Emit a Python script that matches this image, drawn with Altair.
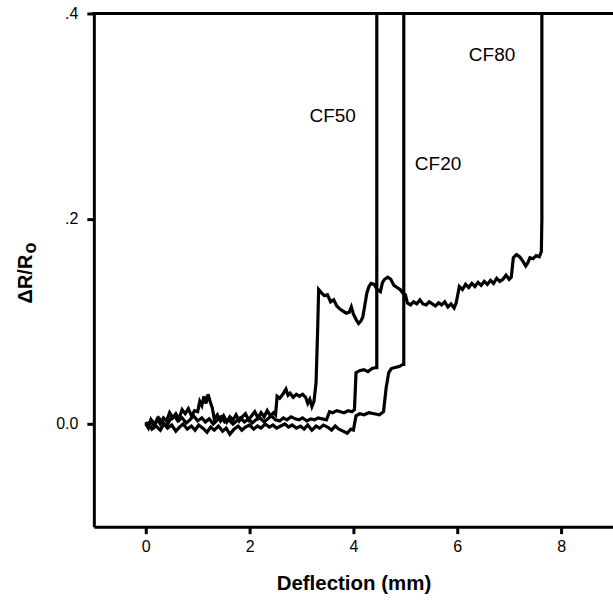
import altair as alt
import pandas as pd

# ---- data ----
cf80_x = [0.00, 0.05, 0.10, 0.16, 0.22, 0.28, 0.34, 0.40, 0.46, 0.52, 0.58, 0.64, 0.70, 0.76, 0.82, 0.88, 0.94,
          1.00, 1.04, 1.08, 1.12, 1.16, 1.20, 1.24, 1.28, 1.32, 1.38, 1.44, 1.50, 1.56, 1.62, 1.68, 1.74, 1.80,
          1.86, 1.92, 1.98, 2.04, 2.10, 2.16, 2.22, 2.28, 2.34, 2.40, 2.46, 2.50, 2.53, 2.58, 2.64, 2.70, 2.74,
          2.78, 2.84, 2.90, 2.96, 3.02, 3.08, 3.12, 3.16, 3.20, 3.24, 3.28, 3.31, 3.33, 3.38, 3.44, 3.50, 3.56,
          3.62, 3.68, 3.74, 3.80, 3.86, 3.92, 3.96, 4.00, 4.06, 4.10, 4.14, 4.18, 4.22, 4.26, 4.30, 4.34, 4.40,
          4.46, 4.52, 4.56, 4.60, 4.66, 4.72, 4.78, 4.84, 4.90, 4.96, 5.00, 5.04, 5.10, 5.16, 5.22, 5.28, 5.34,
          5.40, 5.46, 5.52, 5.58, 5.64, 5.70, 5.76, 5.82, 5.88, 5.94, 5.98, 6.04, 6.10, 6.16, 6.22, 6.28, 6.34,
          6.40, 6.46, 6.52, 6.58, 6.64, 6.70, 6.76, 6.82, 6.88, 6.94, 7.00, 7.04, 7.08, 7.14, 7.20, 7.26, 7.32,
          7.36, 7.40, 7.46, 7.52, 7.58, 7.62, 7.63, 7.63]
cf80_y = [0.000, -0.004, 0.004, -0.002, 0.005, 0.000, 0.006, 0.003, 0.011, 0.006, 0.010, 0.005, 0.014, 0.010, 0.015,
          0.008, 0.013, 0.012, 0.022, 0.018, 0.027, 0.020, 0.029, 0.022, 0.016, 0.005, 0.009, 0.003, 0.008, 0.002,
          0.007, 0.004, 0.009, 0.003, 0.007, 0.010, 0.004, 0.008, 0.012, 0.006, 0.011, 0.007, 0.013, 0.008, 0.011,
          0.009, 0.027, 0.025, 0.029, 0.034, 0.028, 0.030, 0.026, 0.029, 0.027, 0.029, 0.026, 0.020, 0.024, 0.017,
          0.022, 0.040, 0.090, 0.131, 0.128, 0.125, 0.126, 0.119, 0.121, 0.115, 0.112, 0.110, 0.108, 0.109, 0.114,
          0.107, 0.101, 0.098, 0.100, 0.104, 0.116, 0.128, 0.134, 0.137, 0.136, 0.131, 0.129, 0.138, 0.141, 0.143,
          0.141, 0.135, 0.133, 0.131, 0.127, 0.126, 0.118, 0.116, 0.119, 0.117, 0.121, 0.117, 0.116, 0.119, 0.117,
          0.115, 0.118, 0.116, 0.119, 0.114, 0.117, 0.113, 0.118, 0.134, 0.131, 0.136, 0.133, 0.137, 0.134, 0.138,
          0.135, 0.139, 0.136, 0.140, 0.137, 0.142, 0.139, 0.141, 0.145, 0.141, 0.143, 0.162, 0.165, 0.163, 0.159,
          0.154, 0.157, 0.162, 0.161, 0.164, 0.163, 0.168, 0.200, 0.400]

cf50_x = [0.00, 0.05, 0.10, 0.18, 0.25, 0.32, 0.40, 0.48, 0.55, 0.62, 0.70, 0.78, 0.85, 0.92, 1.00, 1.08, 1.15,
          1.22, 1.30, 1.38, 1.45, 1.52, 1.60, 1.68, 1.75, 1.82, 1.90, 1.98, 2.05, 2.12, 2.20, 2.28, 2.35, 2.42,
          2.50, 2.58, 2.65, 2.72, 2.80, 2.88, 2.95, 3.02, 3.10, 3.18, 3.25, 3.32, 3.40, 3.48, 3.54, 3.60, 3.68,
          3.75, 3.82, 3.90, 3.97, 4.02, 4.05, 4.12, 4.20, 4.28, 4.36, 4.43, 4.45, 4.45]
cf50_y = [0.002, -0.003, 0.004, 0.000, 0.006, 0.002, -0.002, 0.005, 0.008, 0.003, 0.006, 0.001, 0.004, 0.008, 0.003,
          0.006, 0.002, 0.005, 0.000, 0.004, 0.007, 0.002, 0.004, 0.000, 0.003, 0.006, 0.002, 0.005, 0.001, 0.004,
          0.006, 0.002, 0.005, 0.008, 0.004, 0.003, 0.006, 0.004, 0.007, 0.005, 0.004, 0.006, 0.003, 0.005, 0.004,
          0.006, 0.005, 0.004, 0.012, 0.011, 0.013, 0.012, 0.011, 0.013, 0.012, 0.014, 0.050, 0.052, 0.053, 0.051,
          0.054, 0.055, 0.055, 0.400]

cf20_x = [0.00, 0.06, 0.12, 0.20, 0.28, 0.35, 0.42, 0.50, 0.58, 0.65, 0.72, 0.80, 0.88, 0.95, 1.02, 1.10, 1.18,
          1.25, 1.32, 1.40, 1.48, 1.55, 1.62, 1.70, 1.78, 1.85, 1.92, 2.00, 2.08, 2.15, 2.22, 2.30, 2.38, 2.45,
          2.52, 2.60, 2.68, 2.75, 2.82, 2.90, 2.98, 3.05, 3.12, 3.20, 3.28, 3.35, 3.42, 3.50, 3.58, 3.65, 3.72,
          3.80, 3.88, 3.95, 4.00, 4.05, 4.12, 4.20, 4.30, 4.40, 4.50, 4.58, 4.63, 4.68, 4.73, 4.80, 4.88, 4.95,
          4.97, 4.97]
cf20_y = [-0.002, 0.001, -0.005, -0.002, -0.006, 0.000, -0.004, -0.001, -0.007, -0.003, 0.000, -0.005, -0.002,
          -0.006, -0.001, -0.004, -0.008, -0.003, -0.006, -0.002, -0.007, -0.004, -0.010, -0.005, -0.002, -0.006,
          -0.003, -0.001, -0.005, -0.002, -0.004, 0.000, -0.003, -0.001, -0.004, -0.002, 0.000, -0.003, -0.001,
          -0.004, -0.002, -0.005, -0.001, -0.006, -0.002, -0.004, -0.001, -0.003, -0.006, -0.002, -0.005, -0.007,
          -0.009, -0.005, -0.006, 0.008, 0.010, 0.009, 0.011, 0.010, 0.009, 0.012, 0.035, 0.050, 0.054, 0.055,
          0.056, 0.058, 0.058, 0.400]

label_text = ["CF50", "CF20", "CF80"]
label_x = [3.6, 5.63, 6.67]
label_y = [0.300, 0.253, 0.360]

x_ticks = [0, 2, 4, 6, 8]
y_ticks = [0, 0.2, 0.4]

rows = []
for name, xs, ys in [("CF80", cf80_x, cf80_y), ("CF50", cf50_x, cf50_y), ("CF20", cf20_x, cf20_y)]:
    for i, (xv, yv) in enumerate(zip(xs, ys)):
        rows.append({"series": name, "x": xv, "y": yv, "i": i})
df = pd.DataFrame(rows)
labels = pd.DataFrame({"t": label_text, "x": label_x, "y": label_y})

FONT = "Liberation Sans"
W, H = 520, 514

xscale = alt.Scale(domain=[-1, 9], nice=False, zero=False)
yscale = alt.Scale(domain=[-0.1, 0.4], nice=False, zero=False)

lines = alt.Chart(df).mark_line(color="black", strokeWidth=3.2, clip=True).encode(
    x=alt.X("x:Q", scale=xscale,
            axis=alt.Axis(values=x_ticks, title="Deflection (mm)", grid=False, domain=True,
                          domainColor="black", domainWidth=3,
                          tickColor="black", tickWidth=3, tickSize=7, labelFont=FONT, labelFontSize=16,
                          labelColor="black", labelPadding=5, titleFont=FONT, titleFontSize=20.5,
                          titleFontWeight="bold", titleColor="black", titlePadding=19)),
    y=alt.Y("y:Q", scale=yscale,
            axis=alt.Axis(values=y_ticks, title=None, grid=False, domain=True,
                          domainColor="black", domainWidth=3,
                          labelExpr="datum.value == 0 ? '0.0' : replace(format(datum.value, '.1f'), '0.', '.')",
                          tickColor="black", tickWidth=3, tickSize=7, labelFont=FONT, labelFontSize=16,
                          labelColor="black", labelPadding=9)),
    detail="series:N",
    order="i:Q",
)

top_border = alt.Chart(pd.DataFrame({"k": [0]})).mark_rule(color="black", strokeWidth=3).encode(
    x=alt.value(-1.5), x2=alt.value(W), y=alt.value(0))

texts = alt.Chart(labels).mark_text(font=FONT, fontSize=19, color="black", align="center",
                                     baseline="middle").encode(
    x=alt.X("x:Q", scale=xscale), y=alt.Y("y:Q", scale=yscale), text="t:N")

ytitle = alt.Chart(pd.DataFrame({"t": ["ΔR/R"]})).mark_text(
    font=FONT, fontSize=20, fontWeight="bold", color="black", angle=270, align="center",
    baseline="alphabetic").encode(x=alt.value(-62), y=alt.value(266), text="t:N")
ysub = alt.Chart(pd.DataFrame({"t": ["o"]})).mark_text(
    font=FONT, fontSize=18, fontWeight="bold", color="black", angle=270, align="center",
    baseline="alphabetic").encode(x=alt.value(-58), y=alt.value(235), text="t:N")

chart = alt.layer(lines, top_border, texts, ytitle, ysub).properties(
    width=W, height=H,
    autosize=alt.AutoSizeParams(type="none"),
    padding={"left": 94, "top": 13, "right": 0, "bottom": 75},
    background="white",
).configure_view(stroke=None)

chart.save("out.html", embed_options={"renderer": "svg", "actions": False})
